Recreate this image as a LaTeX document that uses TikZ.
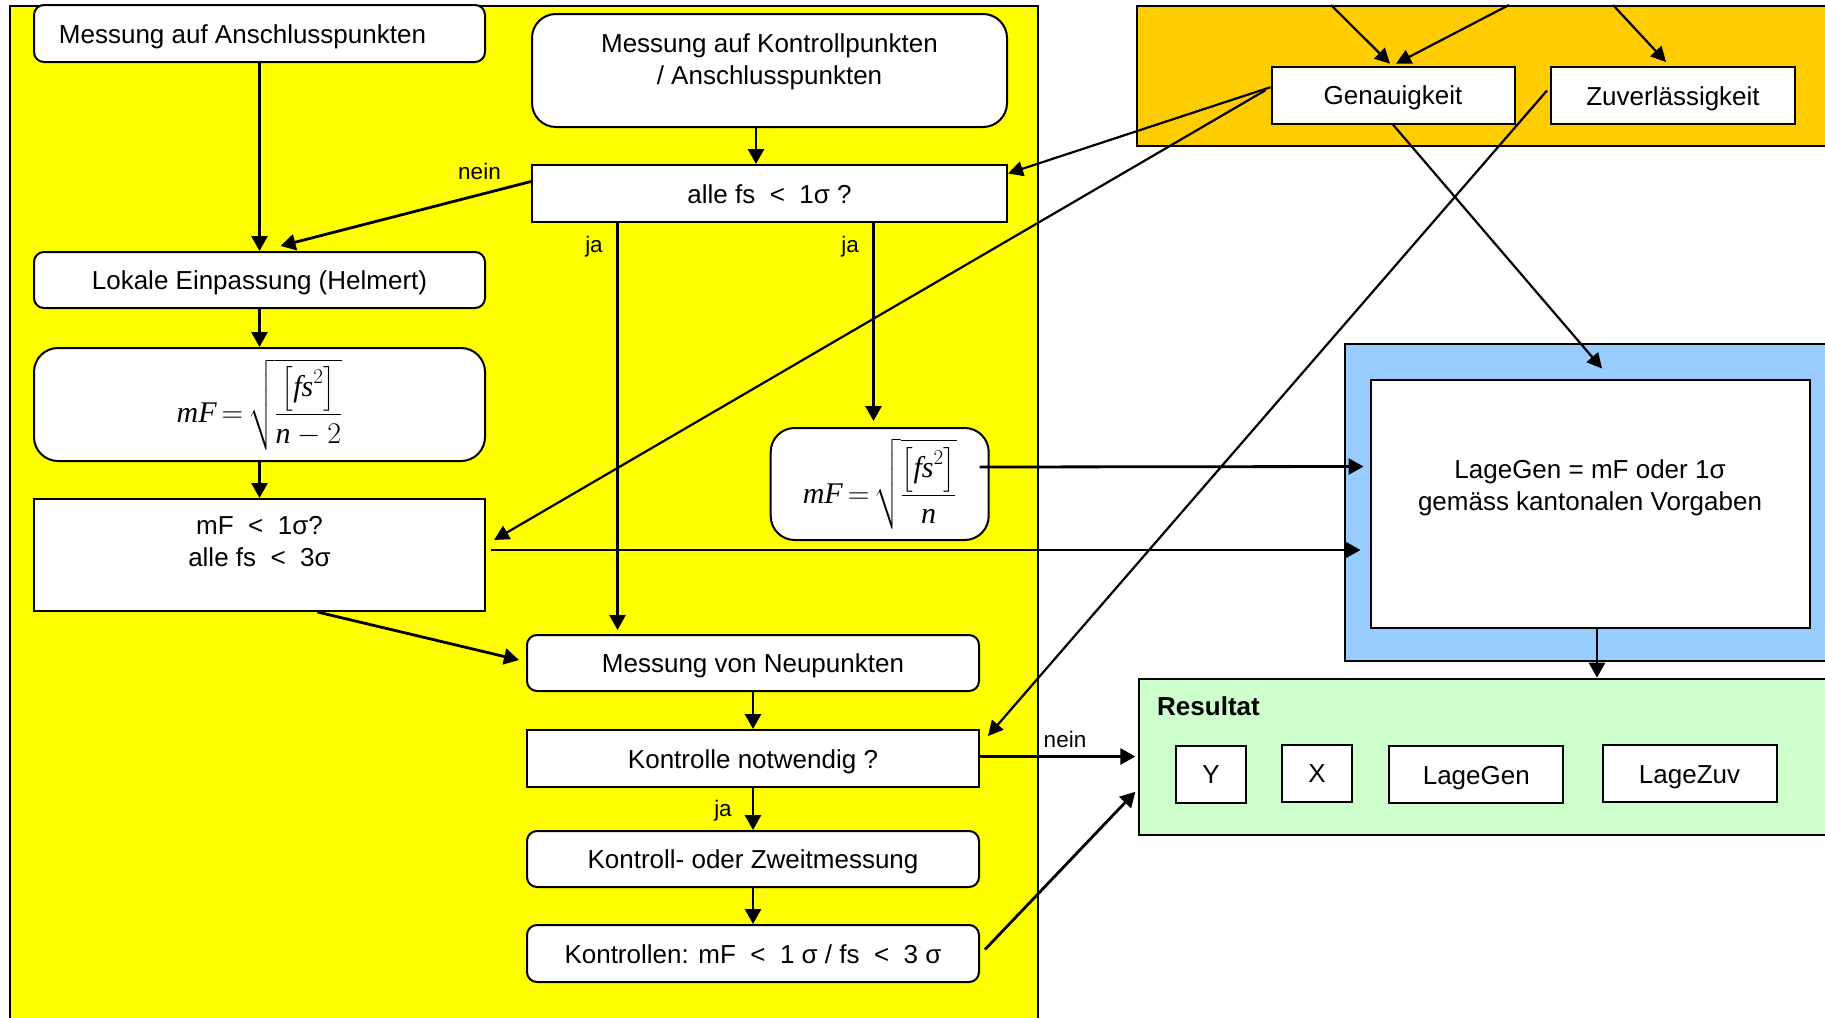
\RequirePackage{fix-cm}
\documentclass[tikz,border=0pt]{standalone}
\usepackage{amsmath}
\usepackage{fontspec}
\setmainfont{Liberation Sans}
\newfontfamily\tnrfont{Liberation Serif}
\usetikzlibrary{arrows.meta,calc}
\definecolor{yel}{RGB}{255,255,0}
\definecolor{ora}{RGB}{255,204,0}
\definecolor{blu}{RGB}{153,204,255}
\definecolor{grn}{RGB}{204,255,204}
\newcommand\liftup[2]{\raisebox{#1}[\height][\depth]{\begin{tabular}{@{}c@{}}#2\end{tabular}}}
\newcommand\ivar[1]{\mbox{\tnrfont\itshape #1}}
\begin{document}
\begin{tikzpicture}[x=1pt,y=-1pt,
  font=\fontsize{26}{32}\selectfont,
  panel/.style={draw=black,line width=2pt,anchor=north west,inner sep=0pt},
  box/.style={draw=black,line width=2pt,fill=white,inner sep=0pt,align=center},
  one/.style={text height=21pt,text depth=2pt},
  rbox/.style={box,rounded corners=10pt},
  Rbox/.style={box,rounded corners=24pt},
  conn/.style={line width=2.8pt,-{Triangle[length=15pt,width=16pt]}},
  thinconn/.style={line width=2.2pt,-{Triangle[length=15pt,width=15pt]}},
  lbl/.style={font=\fontsize{22.5}{27}\selectfont,inner sep=0pt},
  fml/.style={font=\fontsize{30}{36}\selectfont}]
\useasboundingbox (0,0) rectangle (1825,1017);
\clip (0,0) rectangle (1825,1017);
\fill[white] (0,0) rectangle (1825,1017);

% panels
\node[panel,fill=yel,minimum width=1027.5pt,minimum height=1040pt] (yp) at (9,5) {};
\node[panel,fill=ora,minimum width=720pt,minimum height=140pt] (op) at (1136,5) {};
\node[panel,fill=blu,minimum width=520pt,minimum height=317.3pt] (bp) at (1343.6,342.7) {};
\node[panel,fill=grn,minimum width=720pt,minimum height=156.3pt] (res) at (1138.4,677.7) {};

% left column
\node[rbox,one,minimum width=451pt,minimum height=57pt] (A) at (259.5,33.5) {\hspace*{-34pt}Messung auf Anschlusspunkten};
\node[Rbox,minimum width=475pt,minimum height=113pt] (B) at (769.5,70.5) {\liftup{8pt}{Messung auf Kontrollpunkten\\/ Anschlusspunkten}};
\node[box,one,minimum width=475pt,minimum height=57pt] (C) at (769.5,193.5) {alle fs~~<~~1σ ?};
\node[rbox,one,minimum width=451pt,minimum height=56pt] (D) at (259.5,280) {Lokale Einpassung (Helmert)};
\node[Rbox,fml,minimum width=451pt,minimum height=113pt] (E) at (259.5,404.5)
  {$\ivar{mF}\,{=}\,\sqrt{\dfrac{\left[\ivar{fs}^{2}\right]}{\ivar{n}-2}}$};
\node[box,minimum width=451pt,minimum height=112pt] (F) at (259.5,555) {\liftup{11pt}{mF~~<~~1σ?\\alle fs~~<~~3σ}};
\node[Rbox,fml,minimum width=218pt,minimum height=112pt] (G) at (879.7,484)
  {$\ivar{mF}\,{=}\,\sqrt{\dfrac{\left[\ivar{fs}^{2}\right]}{\ivar{n}}}$};
\node[rbox,one,minimum width=452pt,minimum height=56pt] (H) at (753,663) {Messung von Neupunkten};
\node[box,one,minimum width=452pt,minimum height=57pt] (I) at (753,758.5) {Kontrolle notwendig ?};
\node[rbox,one,minimum width=452pt,minimum height=56pt] (J) at (753,859) {Kontroll- oder Zweitmessung};
\node[rbox,one,minimum width=452pt,minimum height=57pt] (K) at (753,953.5) {Kontrollen: mF~~<~~1~σ / fs~~<~~3~σ};

% right side
\node[box,one,minimum width=243pt,minimum height=57pt] (Gen) at (1393,95.2) {Genauigkeit};
\node[box,one,minimum width=244pt,minimum height=57pt] (Zuv) at (1673,95.5) {Zuverlässigkeit};
\node[box,minimum width=439pt,minimum height=248pt] (inner) at (1590,503.5) {\liftup{15pt}{LageGen = mF oder 1σ\\gemäss kantonalen Vorgaben}};
\node[anchor=west,inner sep=0pt,font=\fontsize{26}{32}\selectfont\bfseries] (rt) at (1157,706) {Resultat};
\node[box,one,minimum width=70pt,minimum height=57pt] (Yb) at (1211,774.4) {Y};
\node[box,one,minimum width=70pt,minimum height=57pt] (Xb) at (1317,773.4) {X};
\node[box,one,minimum width=174pt,minimum height=57pt] (LG) at (1476.3,774.5) {LageGen};
\node[box,one,minimum width=174pt,minimum height=57pt] (LZ) at (1689.5,773.5) {LageZuv};

% labels
\node[lbl] (n1) at (479.5,171) {nein};
\node[lbl] (j1) at (594,247) {ja};
\node[lbl] (j2) at (850,247) {ja};
\node[lbl] (n2) at (1065,739) {nein};
\node[lbl] (j3) at (723,811) {ja};

% connectors left
\draw[conn] (A.south) -- (D.north);
\draw[conn] ($(B.south)+(-13.5,0)$) -- ($(C.north)+(-13.5,0)$);
\draw[conn] ($(C.west)+(0,-12)$) -- ($(D.north)+(21,-5)$);
\coordinate (jl) at ($(C.south)+(-152,0)$);
\coordinate (jr) at ($(C.south)+(104,0)$);
\draw[conn] (jl) -- ($(jl |- H.north)+(0,-4)$);
\draw[conn] (jr) -- ($(jr |- G.north)+(0,-6)$);
\draw[conn] (D.south) -- (E.north);
\draw[conn] (E.south) -- (F.north);
\draw[conn] ($(F.south)+(58,0)$) -- ($(H.west)+(-7,-3)$);
\draw[conn] (H.south) -- (I.north);
\draw[conn] (I.south) -- (J.north);
\draw[conn] (J.south) -- (K.north);

% connectors to the right
\draw[conn] ($(G.east)+(-10,-17)$) -- ($(inner.west)+(-6,-37)$);
\draw[conn] ($(F.east)+(5,-5)$) -- ($(inner.west)+(-9,46.5)$);
\draw[thinconn] ($(Gen.west)+(0,-8)$) -- ($(C.east)+(0,-20)$);
\draw[thinconn] ($(Gen.west)+(-5,-5)$) -- ($(F.east)+(8,-15)$);
\draw[thinconn] (Gen.south) -- ($(inner.north)+(12,-10)$);
\draw[thinconn] ($(Zuv.west)+(-3,-5)$) -- ($(I.north east)+(8,7)$);
\coordinate (ib) at ($(inner.south)+(7,0)$);
\draw[conn] (ib) -- (ib |- res.north);
\coordinate (ie) at ($(I.east)+(0,-2)$);
\draw[conn] (ie) -- ($(ie -| res.west)+(-3,0)$);
\draw[conn] ($(K.east)+(5,-4)$) -- ($(res.north west)+(-3,114)$);

% arrows from above
\coordinate (t1) at (1331,5);
\coordinate (t2) at (1509,5);
\coordinate (t3) at (1613,5);
\draw[thinconn] (t1) -- ($(Gen.north)+(-3,-2)$);
\draw[thinconn] (t2) -- ($(Gen.north)+(3,-2)$);
\draw[thinconn] (t3) -- ($(Zuv.north)+(-7,-4)$);
\end{tikzpicture}
\end{document}
